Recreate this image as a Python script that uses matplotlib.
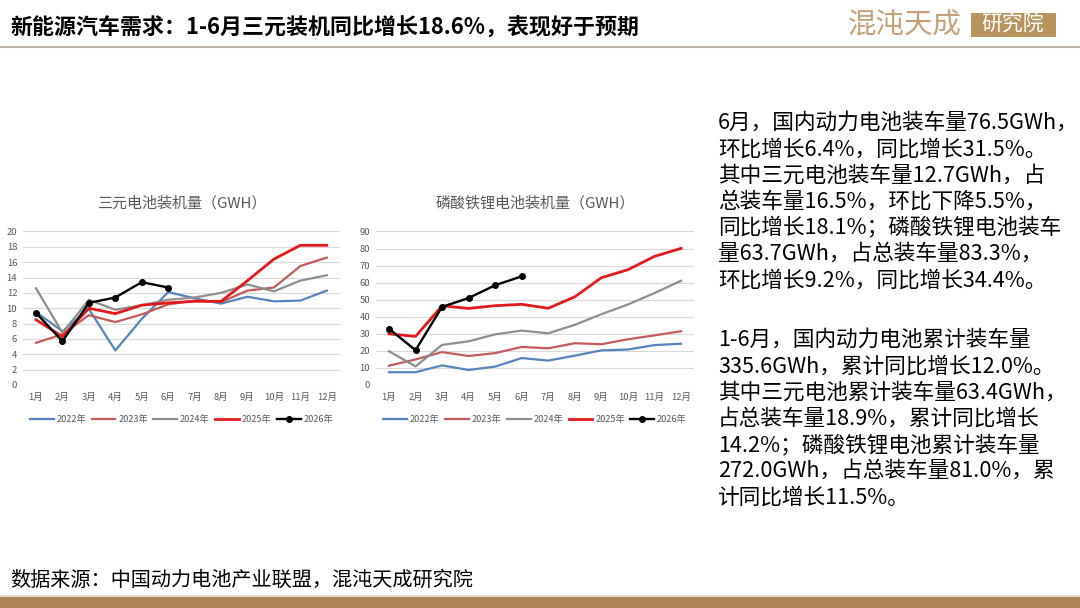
import matplotlib
matplotlib.use("Agg")
import matplotlib.pyplot as plt
from matplotlib.patches import Rectangle

plt.rcParams['font.family'] = ['Noto Sans CJK SC', 'DejaVu Sans']

months = ["1月", "2月", "3月", "4月", "5月", "6月", "7月", "8月", "9月", "10月", "11月", "12月"]
years = ["2022年", "2023年", "2024年", "2025年", "2026年"]

# 三元电池装机量 (GWH)
ncm_2022 = [9.5, 7.0, 9.9, 4.5, 8.6, 12.1, 11.3, 10.6, 11.5, 10.9, 11.0, 12.3]
ncm_2023 = [5.5, 6.6, 9.1, 8.2, 9.2, 10.5, 11.0, 10.8, 12.3, 12.7, 15.5, 16.6]
ncm_2024 = [12.6, 6.8, 11.1, 9.8, 10.4, 11.1, 11.4, 12.0, 13.1, 12.2, 13.6, 14.3]
ncm_2025 = [8.5, 6.3, 10.0, 9.3, 10.4, 10.7, 10.9, 10.9, 13.6, 16.4, 18.2, 18.2]
ncm_2026 = [9.4, 5.7, 10.7, 11.4, 13.4, 12.7]

# 磷酸铁锂电池装机量 (GWH)
lfp_2022 = [7.5, 7.5, 11.5, 8.8, 10.8, 15.8, 14.3, 17.2, 20.3, 20.8, 23.4, 24.2]
lfp_2023 = [11.3, 15.0, 19.3, 17.0, 18.7, 22.3, 21.5, 24.5, 23.9, 26.8, 29.1, 31.5]
lfp_2024 = [19.8, 10.9, 23.5, 25.6, 29.7, 31.9, 30.3, 35.3, 41.5, 47.2, 53.9, 61.1]
lfp_2025 = [30.0, 28.5, 46.4, 44.9, 46.5, 47.3, 45.0, 51.7, 62.9, 67.6, 75.4, 80.1]
lfp_2026 = [33.0, 20.4, 45.8, 51.0, 58.5, 63.7]

ncm_yticks = list(range(0, 21, 2))
lfp_yticks = list(range(0, 91, 10))

title = "新能源汽车需求：1-6月三元装机同比增长18.6%，表现好于预期"
source = "数据来源：中国动力电池产业联盟，混沌天成研究院"
chart1_title = "三元电池装机量（GWH）"
chart2_title = "磷酸铁锂电池装机量（GWH）"
para1 = ["6月，国内动力电池装车量76.5GWh，",
         "环比增长6.4%，同比增长31.5%。",
         "其中三元电池装车量12.7GWh，占",
         "总装车量16.5%，环比下降5.5%，",
         "同比增长18.1%；磷酸铁锂电池装车",
         "量63.7GWh，占总装车量83.3%，",
         "环比增长9.2%，同比增长34.4%。"]
para2 = ["1-6月，国内动力电池累计装车量",
         "335.6GWh，累计同比增长12.0%。",
         "其中三元电池累计装车量63.4GWh，",
         "占总装车量18.9%，累计同比增长",
         "14.2%；磷酸铁锂电池累计装车量",
         "272.0GWh，占总装车量81.0%，累",
         "计同比增长11.5%。"]

W, H = 1080, 608
fig = plt.figure(figsize=(W / 100, H / 100), dpi=100)
fig.patch.set_facecolor("white")


def fx(px):
    return px / W


def fy(py):
    return 1 - py / H


colors = ["#5585BE", "#C45A5B", "#8E8E8E", "#E3191C", "#000000"]
widths = [1.6, 1.6, 1.6, 2.0, 1.7]


def draw_chart(left_px, right_px, series, yticks, ctitle):
    top_px, bot_px = 231.5, 385.0
    ax = fig.add_axes([fx(left_px), fy(bot_px), (right_px - left_px) / W, (bot_px - top_px) / H])
    x = list(range(len(months)))
    for i, (s, lab) in enumerate(zip(series, years)):
        xs = x[:len(s)]
        if i == 4:
            ax.plot(xs, s, color=colors[i], lw=widths[i], marker='o', ms=4, label=lab, zorder=5)
        else:
            ax.plot(xs, s, color=colors[i], lw=widths[i], label=lab, zorder=3 + i * 0.1)
    ax.set_xlim(-0.5, 11.5)
    ax.set_ylim(yticks[0], yticks[-1])
    ax.set_yticks(yticks)
    ax.set_xticks(x)
    ax.set_xticklabels(months)
    for sp in ax.spines.values():
        sp.set_visible(False)
    ax.grid(axis='y', color="#D9D9D9", lw=0.8)
    ax.set_axisbelow(True)
    ax.tick_params(axis='both', length=0, labelsize=6.8, colors="#595959")
    ax.tick_params(axis='x', pad=6)
    ax.tick_params(axis='y', pad=4)
    ax.set_title(ctitle, fontsize=10.8, color="#595959", pad=17)
    ax.legend(loc='center', bbox_to_anchor=(0.5, -0.228), ncol=5, frameon=False,
              fontsize=6.6, handlelength=2.6, columnspacing=0.6, handletextpad=0.3,
              labelcolor="#595959")
    return ax


draw_chart(22.8, 340.0, [ncm_2022, ncm_2023, ncm_2024, ncm_2025, ncm_2026], ncm_yticks, chart1_title)
draw_chart(375.7, 694.3, [lfp_2022, lfp_2023, lfp_2024, lfp_2025, lfp_2026], lfp_yticks, chart2_title)

# header
fig.text(fx(10), fy(28), title, fontsize=15.8, fontweight='bold', color="black", va='center', ha='left')
fig.add_artist(plt.Line2D([0, 1], [fy(47), fy(47)], color="#BDB5AB", lw=1.5))
fig.text(fx(905), fy(25), "混沌天成", fontsize=20.5, color="#C4A176", va='center', ha='center', fontweight='light')
fig.patches.append(Rectangle((fx(971), fy(37)), fx(85), 24 / H, transform=fig.transFigure,
                             facecolor="#B8935C", edgecolor='none'))
fig.text(fx(1013), fy(25), "研究院", fontsize=15, color="white", va='center', ha='center', fontweight='light')

# text block
for i, line in enumerate(para1):
    fig.text(fx(718), fy(123 + i * 26.2), line, fontsize=15.6, color="black", va='center', ha='left')
for i, line in enumerate(para2):
    fig.text(fx(718), fy(340 + i * 26.2), line, fontsize=15.6, color="black", va='center', ha='left')

# footer
fig.text(fx(10), fy(580), source, fontsize=14.5, color="black", va='center', ha='left')
fig.patches.append(Rectangle((0, 0), 1, 13 / H, transform=fig.transFigure, facecolor="#EADFCF", edgecolor='none'))
fig.patches.append(Rectangle((0, 0), 1, 11 / H, transform=fig.transFigure, facecolor="#AE8455", edgecolor='none'))

fig.savefig("out.png", dpi=100, facecolor="white")
